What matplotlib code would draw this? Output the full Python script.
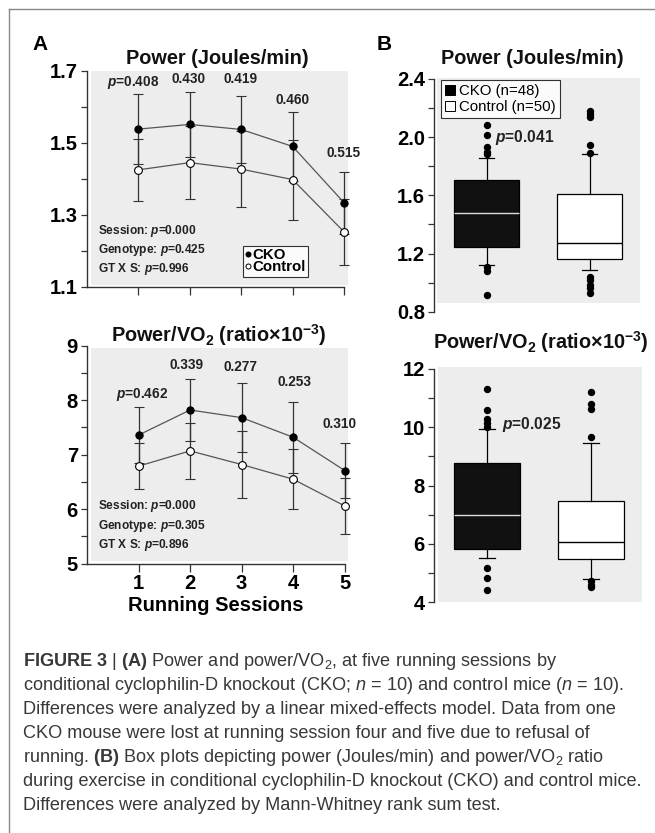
import numpy as np
import matplotlib
matplotlib.use("Agg")
import matplotlib.pyplot as plt
from matplotlib.lines import Line2D
from matplotlib.patches import Rectangle

plt.rcParams['font.family'] = ['Liberation Sans', 'DejaVu Sans']
plt.rcParams['mathtext.fontset'] = 'custom'
plt.rcParams['mathtext.rm'] = 'Liberation Sans'
plt.rcParams['mathtext.it'] = 'Liberation Sans:italic'
plt.rcParams['mathtext.bf'] = 'Liberation Sans:bold'
plt.rcParams['mathtext.bfit'] = 'Liberation Sans:italic:bold'

# ---- panel A data (mean +/- error) ----
sessions = [1, 2, 3, 4, 5]
power_cko = [1.538, 1.551, 1.537, 1.490, 1.334]
power_cko_err = [0.096, 0.090, 0.094, 0.095, 0.086]
power_ctl = [1.425, 1.445, 1.427, 1.398, 1.253]
power_ctl_err = [0.086, 0.101, 0.105, 0.111, 0.092]
power_pvals = [r'$\mathbfit{p}$=0.408', '0.430', '0.419', '0.460', '0.515']
power_stats = ['0.000', '0.425', '0.996']

ratio_cko = [7.36, 7.82, 7.68, 7.32, 6.71]
ratio_cko_err = [0.51, 0.57, 0.63, 0.65, 0.50]
ratio_ctl = [6.79, 7.07, 6.82, 6.55, 6.06]
ratio_ctl_err = [0.42, 0.52, 0.62, 0.55, 0.52]
ratio_pvals = [r'$\mathbfit{p}$=0.462', '0.339', '0.277', '0.253', '0.310']
ratio_stats = ['0.000', '0.305', '0.896']

# ---- panel B data (box plot summaries) ----
groups = ['CKO (n=48)', 'Control (n=50)']
box_power = [
    dict(whislo=1.122, q1=1.243, med=1.477, q3=1.706, whishi=1.859,
         fliers=[2.084, 2.015, 1.935, 1.900, 1.885, 1.106, 1.083, 0.915]),
    dict(whislo=1.087, q1=1.165, med=1.271, q3=1.608, whishi=1.885,
         fliers=[2.180, 2.160, 2.140, 1.946, 1.890, 1.040, 1.015, 0.985, 0.960, 0.930]),
]
box_ratio = [
    dict(whislo=5.53, q1=5.83, med=7.00, q3=8.79, whishi=9.94,
         fliers=[11.31, 10.59, 10.28, 10.14, 10.02, 5.17, 4.82, 4.42]),
    dict(whislo=4.79, q1=5.49, med=6.08, q3=7.49, whishi=9.45,
         fliers=[11.22, 10.80, 10.63, 9.68, 4.72, 4.60, 4.52]),
]

W, H = 655, 833
GRAY = '#ededed'
SPINE = '#333333'

fig = plt.figure(figsize=(W / 100, H / 100), dpi=100)


def px_axes(x0, y0, x1, y1):
    return fig.add_axes([x0 / W, 1 - y1 / H, (x1 - x0) / W, (y1 - y0) / H])


def style_axis(ax, bottom=True):
    ax.set_facecolor('none')
    for s in ['top', 'right']:
        ax.spines[s].set_visible(False)
    ax.spines['bottom'].set_visible(bottom)
    for s in ['left', 'bottom']:
        ax.spines[s].set_color(SPINE)
        ax.spines[s].set_linewidth(1.0)
    ax.tick_params(which='both', direction='out', length=4.5, width=0.9,
                   color=SPINE, labelsize=14.5, pad=2.0)
    for lab in ax.get_yticklabels() + ax.get_xticklabels():
        lab.set_fontweight('bold')


def gray_bg(ax, x0, y0, x1, y1):
    ax.add_patch(Rectangle((x0, y0), x1 - x0, y1 - y0, transform=ax.transAxes,
                           facecolor=GRAY, edgecolor='none', zorder=0, clip_on=False))


def line_panel(ax, cko, cko_err, ctl, ctl_err):
    for m, e, fc, ms in [(cko, cko_err, 'black', 5.2), (ctl, ctl_err, 'white', 5.6)]:
        c = ax.errorbar(sessions, m, yerr=e, fmt='-o', color='#555555', lw=0.9,
                        ecolor='#333333', elinewidth=0.9, capsize=3.8, capthick=0.9,
                        marker='o', ms=ms, mfc=fc, mec='black', mew=0.8, zorder=3)
        for art in c.get_children():
            art.set_clip_on(False)
    ax.set_xlim(0, 5)
    ax.set_xticks(sessions)


STATS_FMT = 'Session: $\\mathbfit{p}$=%s\nGenotype: $\\mathbfit{p}$=%s\nGT X S: $\\mathbfit{p}$=%s'

# ---------------- A top: power ----------------
ax1 = px_axes(87, 70.7, 344, 287)
gray_bg(ax1, 0.016, 0.009, 1.016, 0.999)
line_panel(ax1, power_cko, power_cko_err, power_ctl, power_ctl_err)
ax1.set_ylim(1.1, 1.7)
ax1.set_yticks([1.1, 1.3, 1.5, 1.7])
ax1.set_yticks([1.2, 1.4, 1.6], minor=True)
ax1.set_xticklabels([])
style_axis(ax1)
ax1.tick_params(axis='x', length=5.5)

p_pos1 = [(0.9, 1.666), (1.98, 1.677), (2.99, 1.677), (4.0, 1.619), (4.99, 1.472)]
for (x, y), t in zip(p_pos1, power_pvals):
    ax1.text(x, y, t, ha='center', va='center', fontsize=9.8, fontweight='bold', color='#222222')
ax1.text(0.042, 0.045, STATS_FMT % tuple(power_stats),
         transform=ax1.transAxes, ha='left', va='bottom', fontsize=8.6,
         fontweight='bold', color='#222222', linespacing=1.3)
leg_handles = [Line2D([], [], ls='none', marker='o', ms=3.6, mfc='black', mec='black', mew=0.7),
               Line2D([], [], ls='none', marker='o', ms=3.6, mfc='white', mec='black', mew=0.7)]
leg = ax1.legend(leg_handles, ['CKO', 'Control'], loc='lower left',
                 bbox_to_anchor=(0.606, 0.048), borderaxespad=0, frameon=True,
                 fancybox=False, handlelength=0.4, handletextpad=0.12,
                 labelspacing=-0.1, borderpad=0.15, prop=dict(size=10.8, weight='bold'))
leg.get_frame().set_edgecolor('black')
leg.get_frame().set_linewidth(0.8)

# ---------------- A bottom: power/VO2 ----------------
ax2 = px_axes(87, 345.7, 344.7, 563.7)
gray_bg(ax2, 0.014, 0.014, 1.014, 0.991)
line_panel(ax2, ratio_cko, ratio_cko_err, ratio_ctl, ratio_ctl_err)
ax2.set_ylim(5, 9)
ax2.set_yticks([5, 6, 7, 8, 9])
ax2.set_yticks([5.5, 6.5, 7.5, 8.5], minor=True)
style_axis(ax2)
ax2.tick_params(axis='x', length=5.5)
ax2.set_xlabel('Running Sessions', fontsize=14.5, fontweight='bold', labelpad=2)

p_pos2 = [(1.06, 8.11), (1.93, 8.65), (2.97, 8.61), (4.02, 8.34), (4.9, 7.56)]
for (x, y), t in zip(p_pos2, ratio_pvals):
    ax2.text(x, y, t, ha='center', va='center', fontsize=9.8, fontweight='bold', color='#222222')
ax2.text(0.042, 0.05, STATS_FMT % tuple(ratio_stats),
         transform=ax2.transAxes, ha='left', va='bottom', fontsize=8.6,
         fontweight='bold', color='#222222', linespacing=1.3)


# ---------------- B panels ----------------
def box_panel(ax, stats):
    bp = ax.bxp(stats, positions=[1, 2], widths=0.64, patch_artist=True,
                capwidths=0.15,
                boxprops=dict(edgecolor='black', linewidth=0.9),
                whiskerprops=dict(color='black', linewidth=0.9),
                capprops=dict(color='black', linewidth=0.9),
                medianprops=dict(color='black', linewidth=1.0),
                flierprops=dict(marker='o', markerfacecolor='black',
                                markeredgecolor='black', markersize=4.3))
    bp['boxes'][0].set_facecolor('#111111')
    bp['boxes'][1].set_facecolor('white')
    bp['medians'][0].set_color('#dddddd')
    ax.set_xlim(0.49, 2.49)
    ax.set_xticks([])


ax3 = px_axes(434, 79, 640, 311.7)
gray_bg(ax3, 0.016, 0.039, 1.0, 1.003)
box_panel(ax3, box_power)
ax3.set_ylim(0.8, 2.4)
ax3.set_yticks([0.8, 1.2, 1.6, 2.0, 2.4])
ax3.set_yticks([1.0, 1.4, 1.8, 2.2], minor=True)
style_axis(ax3, bottom=False)
ax3.text(1.37, 2.0, '$\\mathbfit{p}$=0.041', ha='center', va='center',
         fontsize=11.2, fontweight='bold', color='#222222')
box_handles = [Line2D([], [], ls='none', marker='s', ms=6.5, mfc='black', mec='black', mew=0.7),
               Line2D([], [], ls='none', marker='s', ms=6.5, mfc='white', mec='black', mew=0.7)]
leg3 = ax3.legend(box_handles, groups, loc='upper left', bbox_to_anchor=(0.034, 0.996),
                  borderaxespad=0, frameon=True, fancybox=False, handlelength=0.6,
                  handletextpad=0.3, labelspacing=0.1, borderpad=0.3,
                  prop=dict(size=10.8))
leg3.get_frame().set_edgecolor('black')
leg3.get_frame().set_linewidth(0.8)

ax4 = px_axes(434, 369, 641.7, 602.3)
gray_bg(ax4, 0.02, 0.003, 1.0, 1.007)
box_panel(ax4, box_ratio)
ax4.set_ylim(4, 12)
ax4.set_yticks([4, 6, 8, 10, 12])
ax4.set_yticks([5, 7, 9, 11], minor=True)
style_axis(ax4, bottom=False)
ax4.text(1.43, 10.1, '$\\mathbfit{p}$=0.025', ha='center', va='center',
         fontsize=11.2, fontweight='bold', color='#222222')

# ---------------- titles & panel letters ----------------
titles = [(217, 58, 'Power (Joules/min)'),
          (219, 335, r'Power/VO$_\mathbf{2}$ (ratio×10$^{\mathbf{-3}}$)'),
          (532, 58, 'Power (Joules/min)'),
          (541, 342, r'Power/VO$_\mathbf{2}$ (ratio×10$^{\mathbf{-3}}$)')]
for x, y, t in titles:
    fig.text(x / W, 1 - y / H, t, ha='center', va='center', fontsize=14.3,
             fontweight='bold', color='#111111')
fig.text(40 / W, 1 - 45 / H, 'A', ha='center', va='center', fontsize=15, fontweight='bold')
fig.text(384 / W, 1 - 45 / H, 'B', ha='center', va='center', fontsize=15, fontweight='bold')

# frame around figure (top and left only)
fig.add_artist(Line2D([9.3 / W, 1.0], [1 - 9.3 / H, 1 - 9.3 / H], color='#888888', lw=1.0))
fig.add_artist(Line2D([9.3 / W, 9.3 / W], [1 - 9.3 / H, 0.0], color='#888888', lw=1.0))

# ---------------- caption ----------------
caption = [
    r'$\mathbf{FIGURE\ 3}$ | $\mathbf{(A)}$ Power and power/VO$_2$, at five running sessions by',
    r'conditional cyclophilin-D knockout (CKO; $n$ = 10) and control mice ($n$ = 10).',
    'Differences were analyzed by a linear mixed-effects model. Data from one',
    'CKO mouse were lost at running session four and five due to refusal of',
    r'running. $\mathbf{(B)}$ Box plots depicting power (Joules/min) and power/VO$_2$ ratio',
    'during exercise in conditional cyclophilin-D knockout (CKO) and control mice.',
    'Differences were analyzed by Mann-Whitney rank sum test.',
]
for i, line in enumerate(caption):
    y = 661 + i * 24
    fig.text(23 / W, 1 - y / H, line, ha='left', va='center', fontsize=13.1, color='#383838')

fig.savefig('out.png', dpi=100)
